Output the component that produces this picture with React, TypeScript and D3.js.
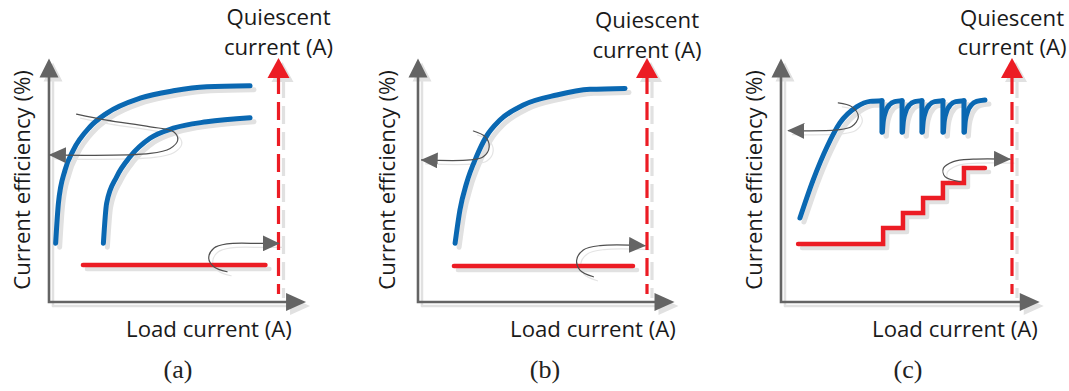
import React from "react";
import * as d3 from "d3";

type P = [number, number];

// ---------- text ----------
const panelTags = ["(a)", "(b)", "(c)"];
const xAxisLabel = "Load current (A)";
const yAxisLabel = "Current efficiency (%)";
const rightAxisLabel = ["Quiescent", "current (A)"];

// ---------- data (schematic units: x 0..100 = left axis..quiescent axis, y 0..100 = bottom..top) ----------
// panel (a)
const effA1: P[] = [[2.9, 24.5], [4.1, 41.1], [7, 55], [10.6, 63.3], [17.9, 73], [25.1, 78.6], [39.7, 84.9], [54.2, 88], [68.7, 89.7], [87.6, 90.1]];
const effA2: P[] = [[23.7, 24.5], [25.1, 41.1], [29.5, 52.2], [35.3, 60.5], [44, 68.2], [54.2, 72.4], [68.7, 75.1], [87.6, 76.8]];
const quiescentA: P[] = [[14.8, 15.4], [94.3, 15.4]];
const noteLeftA: P[] = [[12, 78.3], [25.1, 75.8], [44.1, 73], [54.3, 70.9], [56.1, 67.5], [52.8, 64], [44.1, 61.9], [0.4, 61.3]];
const noteRightA: P[] = [[77.6, 12.6], [71.8, 14.7], [69.6, 18.2], [71.8, 22.4], [77.6, 24.2], [92.1, 24.4], [100.1, 24.4]];

// panel (b)
const effB: P[] = [[16.2, 24.5], [18.3, 38.3], [21.2, 49.5], [25.5, 60.5], [29.8, 68.9], [35.8, 75.8], [46, 82.1], [60.6, 86.25], [75.1, 88.6], [90.4, 89]];
const quiescentB: P[] = [[15.7, 15], [93.9, 15]];
const noteLeftB: P[] = [[24.2, 71.25], [29.3, 68.9], [31.1, 64.7], [28.5, 60.5], [22.7, 59.2], [1.6, 59.2]];
const noteRightB: P[] = [[76.6, 10.5], [70.7, 13.3], [69.3, 17.5], [72.2, 21.7], [79.5, 23.5], [99.1, 23.5]];

// panel (c)
const effCRise: P[] = [[8.2, 35], [13.9, 50.8], [19.9, 64.6], [25.5, 74.6], [32.9, 81.4], [38.5, 83.6], [43.7, 83.9]];
const effCDrops: P[][] = [
  [[43.7, 83.9], [43.7, 70.8]],
  [[52.4, 83.9], [52.4, 70.8]],
  [[61.0, 83.9], [61.0, 70.8]],
  [[70.1, 83.9], [70.1, 70.8]],
  [[79.2, 83.9], [79.2, 70.8]],
];
const effCTeeth: P[][] = [
  [[43.9, 70.8], [44.3, 75.5], [45.3, 79.4], [47, 82.2], [49.2, 83.5], [52.4, 83.9]],
  [[52.6, 70.8], [53, 75.5], [54, 79.4], [55.7, 82.2], [57.9, 83.5], [61, 83.9]],
  [[61.2, 70.8], [61.6, 75.5], [62.6, 79.4], [64.3, 82.2], [66.5, 83.5], [70.1, 83.9]],
  [[70.3, 70.8], [70.7, 75.5], [71.7, 79.4], [73.4, 82.2], [75.6, 83.5], [79.2, 83.9]],
  [[79.4, 70.8], [79.8, 75.5], [80.8, 79.4], [82.5, 82.2], [84.7, 83.6], [88.3, 84.2]],
];
const quiescentC: P[] = [[7.4, 24.2], [44.2, 30.8], [52.8, 37.1], [61.5, 43.3], [70.1, 49.6], [79.2, 55.8], [88.3, 55.8]];
const noteLeftC: P[] = [[24.8, 83], [30.6, 81.4], [33.5, 77.2], [30.6, 73.1], [24.1, 71.7], [3.2, 71.4]];
const noteRightC: P[] = [[77.5, 50.1], [71, 52.2], [70.3, 55.7], [74.6, 58.5], [83.2, 59.5], [99.1, 59.5]];

// ---------- layout ----------
const W = 1069;
const H = 391;
const FONT = "'Open Sans', 'Noto Sans', sans-serif";
const GRAY = "#646464";
const BLUE = "#0a68b2";
const RED = "#ec1c24";
const SHADOW = "#e1e1e1";

type Cfg = {
  x0: number; x1: number; y0: number; y1: number;
  qTop: number; qBot: number; xLabelX: number; yLabelX: number; tagX: number;
};

const cfgs: Cfg[] = [
  { x0: 49, x1: 278.5, y0: 302, y1: 62, qTop: 25, qBot: 55, xLabelX: 209, yLabelX: 29.5, tagX: 178 },
  { x0: 418, x1: 647, y0: 302, y1: 62, qTop: 28, qBot: 58, xLabelX: 593, yLabelX: 395, tagX: 545 },
  { x0: 781, x1: 1012, y0: 302, y1: 62, qTop: 26, qBot: 55, xLabelX: 955, yLabelX: 762, tagX: 908 },
];

type Series = {
  blue: P[][]; blueLinear: P[][]; red: P[]; redStep: boolean; notes: P[][];
};

const seriesList: Series[] = [
  { blue: [effA1, effA2], blueLinear: [], red: quiescentA, redStep: false, notes: [noteLeftA, noteRightA] },
  { blue: [effB], blueLinear: [], red: quiescentB, redStep: false, notes: [noteLeftB, noteRightB] },
  { blue: [effCRise, ...effCTeeth], blueLinear: effCDrops, red: quiescentC, redStep: true, notes: [noteLeftC, noteRightC] },
];

function Panel({ cfg, s, idx }: { cfg: Cfg; s: Series; idx: number }) {
  const xs = d3.scaleLinear().domain([0, 100]).range([cfg.x0, cfg.x1]);
  const ys = d3.scaleLinear().domain([0, 100]).range([cfg.y0, cfg.y1]);
  const mono = d3.line<P>().x((d) => xs(d[0])).y((d) => ys(d[1])).curve(d3.curveMonotoneX);
  const smooth = d3.line<P>().x((d) => xs(d[0])).y((d) => ys(d[1])).curve(d3.curveCatmullRom.alpha(0.5));
  const lin = d3.line<P>().x((d) => xs(d[0])).y((d) => ys(d[1]));
  const step = d3.line<P>().x((d) => xs(d[0])).y((d) => ys(d[1])).curve(d3.curveStepAfter);

  const ax = xs(0);
  const ay = ys(0);
  const yTip = ys(101.5);
  const xTip = xs(112);
  const qx = xs(100);
  const qTip = ys(101.7);

  const yHead = `M${ax},${yTip}L${ax + 9.5},${yTip + 19}L${ax - 9.5},${yTip + 19}Z`;
  const xHead = `M${xTip},${ay}L${xTip - 20},${ay - 9}L${xTip - 20},${ay + 9}Z`;
  const qHead = `M${qx},${qTip}L${qx + 11},${qTip + 20}L${qx - 11},${qTip + 20}Z`;
  const qLine = `M${qx},${qTip + 18}L${qx},${ys(3.3)}`;

  const redPath = s.redStep ? step(s.red) : lin(s.red);
  const off = 4;

  return (
    <g>
      {/* shadows */}
      <g transform={`translate(${off},${off})`} fill="none" strokeLinecap="round" strokeLinejoin="round">
        <path d={`M${ax},${ay}L${ax},${yTip + 16}`} stroke={SHADOW} strokeWidth={2.5} />
        <path d={`M${ax},${ay}L${xTip - 16},${ay}`} stroke={SHADOW} strokeWidth={2.5} />
        <path d={yHead} fill={SHADOW} stroke="none" />
        <path d={xHead} fill={SHADOW} stroke="none" />
        <path d={qLine} transform="translate(1,0)" stroke={SHADOW} strokeWidth={3.2} strokeDasharray="18 8" strokeLinecap="butt" />
        <path d={qHead} fill={SHADOW} stroke="none" />
        {s.blue.map((b, i) => (
          <path key={"bs" + i} d={mono(b) || ""} stroke={SHADOW} strokeWidth={5} />
        ))}
        {s.blueLinear.map((b, i) => (
          <path key={"bls" + i} d={lin(b) || ""} stroke={SHADOW} strokeWidth={5} />
        ))}
        <path d={redPath || ""} stroke={SHADOW} strokeWidth={4.5} />
        {s.notes.map((n, i) => (
          <path key={"ns" + i} d={smooth(n) || ""} stroke="#e4e4e4" strokeWidth={1.2} />
        ))}
      </g>

      {/* axes */}
      <path d={`M${ax},${yTip + 16}L${ax},${ay}L${xTip - 16},${ay}`} stroke={GRAY} strokeWidth={2.6} fill="none" />
      <path d={yHead} fill={GRAY} />
      <path d={xHead} fill={GRAY} />

      {/* quiescent axis */}
      <path d={qLine} stroke={RED} strokeWidth={3.2} strokeDasharray="18 8" fill="none" />
      <path d={qHead} fill={RED} />

      {/* series */}
      <g fill="none" strokeLinecap="round" strokeLinejoin="round">
        {s.blue.map((b, i) => (
          <path key={"b" + i} d={mono(b) || ""} stroke={BLUE} strokeWidth={5} />
        ))}
        {s.blueLinear.map((b, i) => (
          <path key={"bl" + i} d={lin(b) || ""} stroke={BLUE} strokeWidth={5} />
        ))}
        <path d={redPath || ""} stroke={RED} strokeWidth={4.5} strokeLinejoin="miter" strokeLinecap="round" />
        {s.notes.map((n, i) => (
          <path key={"n" + i} d={smooth(n) || ""} stroke="#505050" strokeWidth={1.2} markerEnd="url(#ah)" />
        ))}
      </g>

      {/* labels */}
      <g fontFamily={FONT} fontSize={22.2} fill="#1a1a1a">
        <text x={qx} y={cfg.qTop} textAnchor="middle">{rightAxisLabel[0]}</text>
        <text x={qx} y={cfg.qBot} textAnchor="middle">{rightAxisLabel[1]}</text>
        <text x={cfg.xLabelX} y={337} textAnchor="middle">{xAxisLabel}</text>
        <text transform={`translate(${cfg.yLabelX},180) rotate(-90)`} textAnchor="middle">{yAxisLabel}</text>
      </g>
      <text x={cfg.tagX} y={378} textAnchor="middle" fontFamily="'Liberation Serif', 'DejaVu Serif', serif" fontSize={26} fill="#222">
        {panelTags[idx]}
      </text>
    </g>
  );
}

export default function App() {
  return (
    <svg width={W} height={H} viewBox={`0 0 ${W} ${H}`} style={{ position: "absolute", left: 0, top: 0, background: "#fff" }}>
      <defs>
        <marker id="ah" viewBox="0 0 17 16" refX={16} refY={8} markerWidth={17} markerHeight={16} orient="auto" markerUnits="userSpaceOnUse">
          <path d="M0,0L17,8L0,16Z" fill={GRAY} />
        </marker>
      </defs>
      <rect width={W} height={H} fill="#fff" />
      {cfgs.map((c, i) => (
        <Panel key={i} cfg={c} s={seriesList[i]} idx={i} />
      ))}
    </svg>
  );
}
